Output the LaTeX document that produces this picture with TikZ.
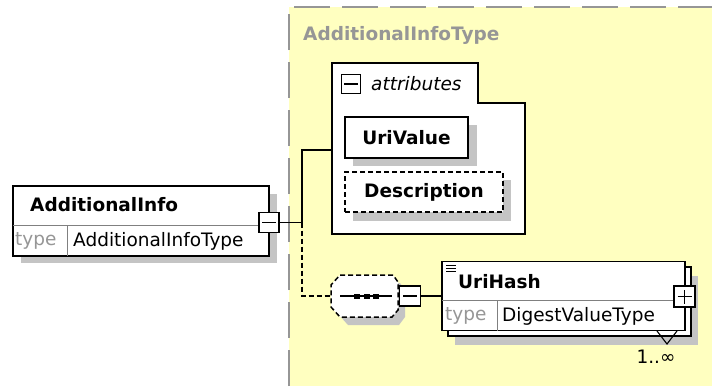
\documentclass[tikz,border=0pt]{standalone}
\usepackage{fontspec}
\setmainfont{DejaVu Sans}
\definecolor{bgyellow}{RGB}{255,255,192}
\definecolor{shadowgray}{RGB}{196,196,196}
\definecolor{bordergray}{RGB}{150,150,150}
\definecolor{labelgray}{RGB}{150,150,150}
\tikzset{
  txt/.style={inner sep=0pt, anchor=west, font=\fontsize{18.5}{22}\selectfont},
  btxt/.style={txt, font=\fontsize{18.5}{22}\selectfont\bfseries},
  elembox/.style={draw=black, line width=1.6pt, fill=white, inner sep=0pt},
  shadowfill/.style={fill=shadowgray, draw=none},
  pmbox/.style={draw=black, line width=1.5pt, fill=white, inner sep=0pt, minimum width=20pt, minimum height=20pt},
  pmline/.style={line width=1.7pt},
  conn/.style={draw=black, line width=1.4pt},
  dsh/.style={dash pattern=on 5pt off 3pt},
  divider/.style={draw=gray, line width=1pt},
}
\begin{document}
\begin{tikzpicture}[x=1pt,y=-1pt]
\useasboundingbox (0,0) rectangle (712,386);
% complex type region
\fill[bgyellow] (289,7) rectangle (712,386);
\draw[bordergray, line width=2pt, dash pattern=on 36pt off 12pt] (289,386) -- (289,7) -- (712,7);
\node[btxt, text=labelgray] (typename) at (303,35) {AdditionalInfoType};

% AdditionalInfo element
\fill[shadowfill] (21,194) rectangle (277,263);
\node[elembox, minimum width=256pt, minimum height=70pt] (ai) at (141,221) {};
\draw[divider] (13,225) -- (269,225);
\draw[divider] (67,225) -- (67,256);
\node[btxt] (aititle) at (30,205) {AdditionalInfo};
\node[txt, text=labelgray] (aitype) at (15,241) {type};
\node[txt] (aitypeval) at (73,241) {AdditionalInfoType};
\node[pmbox] (aim) at (269,222.5) {};
\draw[pmline] ([xshift=-7pt]aim.center) -- ([xshift=7pt]aim.center);

% attributes group
\draw[line width=1.6pt, fill=white] (332,234) -- (332,63) -- (478,63) -- (478,103) -- (525,103) -- (525,234) -- cycle;
\coordinate (attrin) at (332,150);
\node[draw=black, line width=1.4pt, fill=white, inner sep=0pt, minimum width=19pt, minimum height=19pt] (attrm) at (351,84) {};
\draw[pmline] ([xshift=-7pt]attrm.center) -- ([xshift=7pt]attrm.center);
\node[txt, font=\fontsize{18.5}{22}\selectfont\itshape] (attrlbl) at (371,84) {attributes};

\fill[shadowfill] (353,125) rectangle (477,166);
\node[elembox, minimum width=123pt, minimum height=41pt] (urivalue) at (406.5,137.5) {};
\node[btxt] at (urivalue.center) [anchor=center] {UriValue};

\fill[shadowfill] (353,180) rectangle (511,221);
\node[elembox, dsh, minimum width=158pt, minimum height=40pt] (descr) at (424,192) {};
\node[btxt] at (descr.center) [anchor=center] {Description};

% sequence compositor
\fill[shadowfill] (348,283) -- (400,283) -- (405,290) -- (405,317) -- (399,325) -- (348,325) -- (339,315) -- (339,293) -- cycle;
\fill[white] (340,275) -- (393,275) -- (398,282) -- (398,310) -- (392,317) -- (340,317) -- (331,307) -- (331,285) -- cycle;
\draw[line width=1.5pt, dsh] (340,275) -- (393,275) -- (398,282) -- (398,310) -- (392,317) -- (340,317) -- (331,307) -- (331,285) -- cycle;
\node[inner sep=0pt, minimum width=67pt, minimum height=42pt] (seq) at (364.5,296) {};
\draw[line width=1.4pt] (340,296) -- (392,296);
\foreach \dx in {357,367,376} \fill (\dx-3,293.5) rectangle (\dx+3,298.5);
\node[pmbox, minimum width=21pt] (seqm) at (410,296) {};
\draw[pmline] ([xshift=-7pt]seqm.center) -- ([xshift=7pt]seqm.center);

% UriHash element
\fill[shadowfill] (455,276) rectangle (698,345);
\draw[line width=1.6pt, fill=white] (448,267) rectangle (691,336);
\node[elembox, minimum width=243pt, minimum height=69pt] (uh) at (563.5,296) {};
\draw[divider] (442,300) -- (685,300);
\draw[divider] (497,300) -- (497,330.5);
\draw[line width=1pt] (446,265) -- (456,265) (446,268) -- (456,268) (446,271) -- (456,271);
\node[btxt] (uhtitle) at (458,282) {UriHash};
\node[txt, text=labelgray] (uhtype) at (445,316) {type};
\node[txt] (uhtypeval) at (502,316) {DigestValueType};
\node[pmbox, minimum width=21pt, minimum height=21pt] (uhp) at (684.5,296.5) {};
\draw[pmline] ([xshift=-7pt]uhp.center) -- ([xshift=7pt]uhp.center) ([yshift=-7pt]uhp.center) -- ([yshift=7pt]uhp.center);
\draw[line width=1.1pt] (657,331) -- (667,344) -- (677,331);
\node[txt, anchor=center] (card) at (656,357) {1..∞};

% connectors
\coordinate (fork) at (302,222.5);
\draw[conn] (aim.east) -- (fork) |- (attrin);
\draw[conn, dsh] (fork) |- (seq.west);
\draw[conn] (seqm.west) -- (seq.east);
\draw[conn] (seqm.east) -- (uh.west);
\end{tikzpicture}
\end{document}
